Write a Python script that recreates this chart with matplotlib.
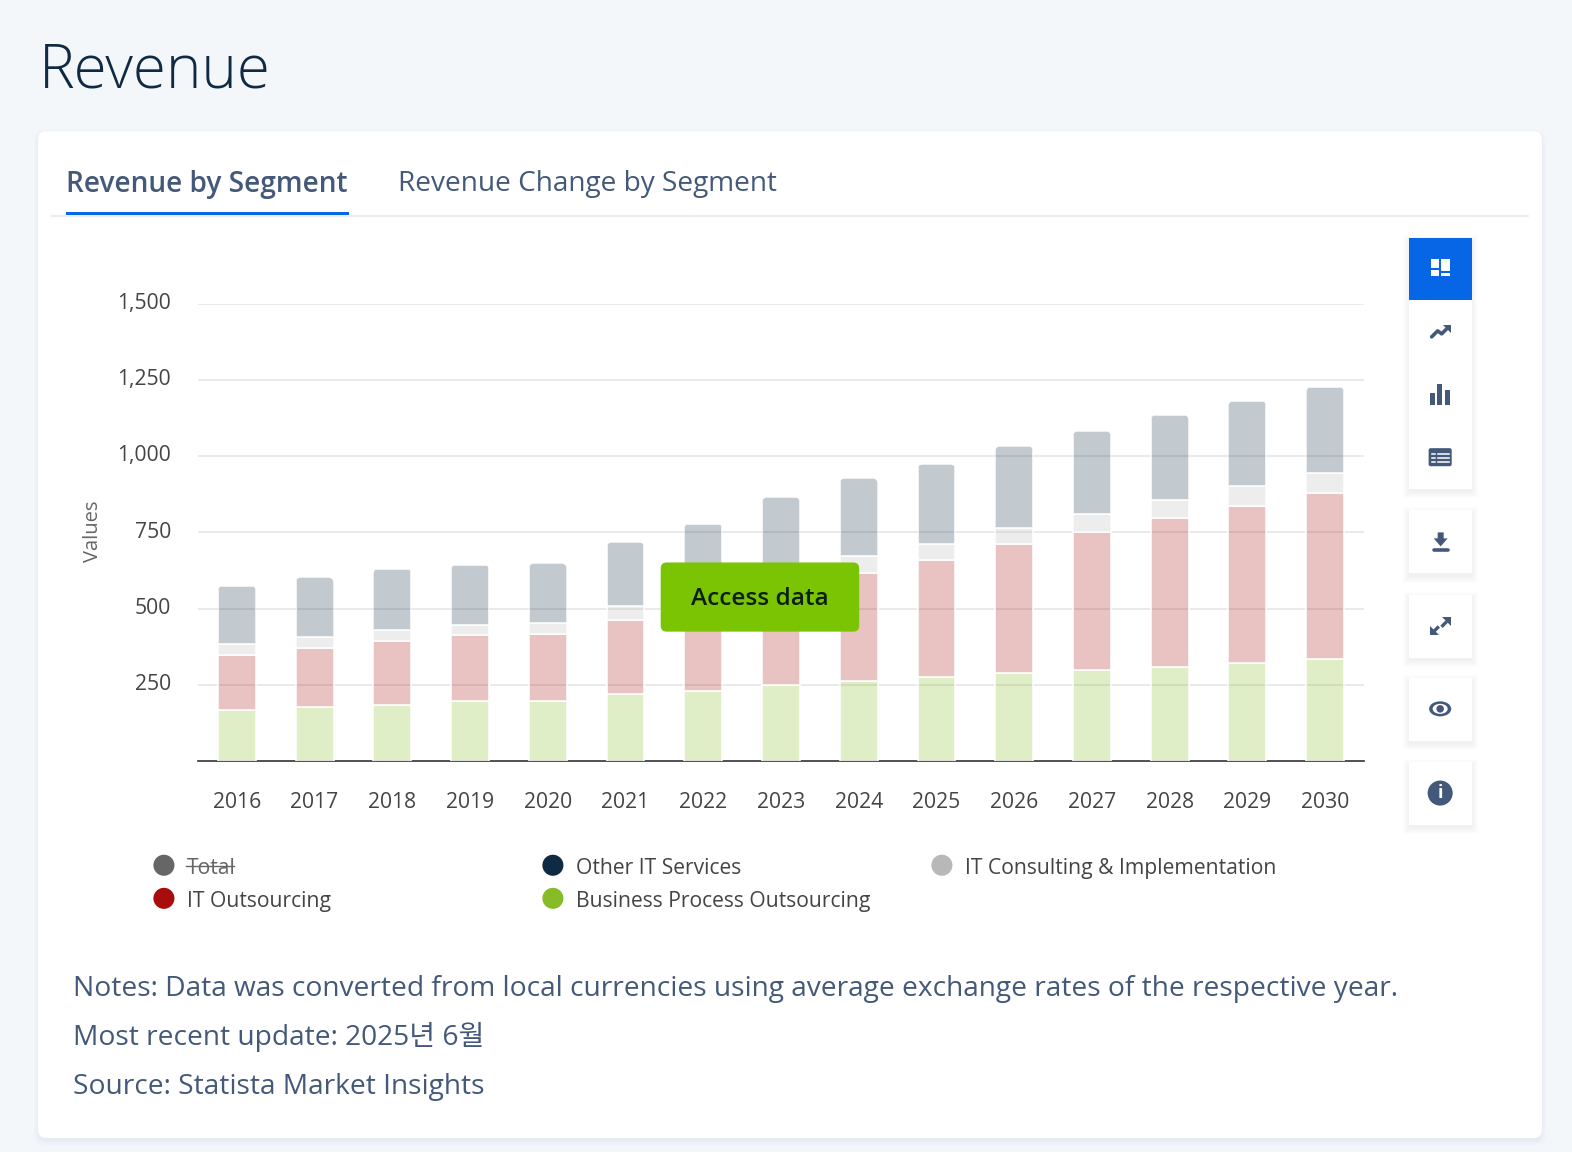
import matplotlib
matplotlib.use('Agg')
import matplotlib.pyplot as plt
import numpy as np
from matplotlib.patches import FancyBboxPatch, Rectangle, Polygon, Ellipse
from matplotlib.transforms import ScaledTranslation

plt.rcParams['font.family'] = ['Open Sans', 'Noto Sans CJK KR', 'DejaVu Sans']

years = [2016, 2017, 2018, 2019, 2020, 2021, 2022, 2023, 2024, 2025, 2026, 2027, 2028, 2029, 2030]
bpo = [168, 178, 184, 197, 197, 220, 230, 250, 263, 276, 289, 299, 309, 322, 335]
it_out = [181, 194, 211, 217, 221, 244, 275, 315, 355, 382, 422, 451, 487, 514, 543]
consulting = [36, 36, 36, 33, 36, 43, 40, 45, 56, 53, 52, 59, 59, 65, 66]
other = [190, 194, 200, 197, 194, 210, 234, 255, 253, 262, 270, 273, 280, 280, 283]
yticks = [250, 500, 750, 1000, 1250, 1500]
legend_names = ['Total', 'Other IT Services', 'IT Consulting & Implementation',
                'IT Outsourcing', 'Business Process Outsourcing']

BLUE = '#44597a'
W, H = 1568, 1149
fig = plt.figure(figsize=(15.72, 11.52), dpi=100, facecolor='#f4f7fa')


def overlay(z):
    a = fig.add_axes([0, 0, 1, 1], zorder=z)
    a.set_xlim(0, W)
    a.set_ylim(H, 0)
    a.axis('off')
    a.patch.set_alpha(0)
    return a


def box(a, x, y, w, h, color, r=0, **kw):
    if r:
        p = FancyBboxPatch((x, y), w, h, boxstyle='round,pad=0,rounding_size=%g' % r,
                           fc=color, ec='none', **kw)
    else:
        p = Rectangle((x, y), w, h, fc=color, ec='none', **kw)
    a.add_patch(p)


bg = overlay(0)
for i in range(6):
    box(bg, 38 - i, 131 - i + 3, 1500 + 2 * i, 1004 + 2 * i, '#8090a8', r=8 + i, alpha=0.012)
box(bg, 38, 131, 1500, 1004, 'white', r=8)
bg.text(39, 72, 'Revenue', fontsize=43.2, weight='light', color='#0f2a43', va='center')
bg.text(66, 184, 'Revenue by Segment', fontsize=20.2, weight='semibold', color=BLUE, va='center')
bg.text(397, 184, 'Revenue Change by Segment', fontsize=20.2, color=BLUE, va='center')
bg.plot([52, 1524], [215, 215], color='#e6e9ee', lw=1.2)
box(bg, 66, 211, 282, 3.5, '#0666e5')

# chart
ax = fig.add_axes([197.5 / W, 1 - 759 / H, (1360.5 - 197.5) / W, (759 - 303) / H], zorder=1)
ax.patch.set_alpha(0)
x = np.arange(len(years))
bottom = np.zeros(len(years))
barw = 37.8 / 77.53
tops = []
for vals, col in [(bpo, '#86bc25'), (it_out, '#a90c0c'), (consulting, '#b8b8b8'), (other, '#0f2a43')]:
    tops = ax.bar(x, vals, barw, bottom=bottom, color=matplotlib.colors.to_rgba(col, 0.25),
                  edgecolor='white', linewidth=1.1, zorder=3)
    bottom = bottom + np.array(vals)
ax.set_xlim(-0.5, 14.5)
ax.set_ylim(0, 1500)
# round the top corners of the top segment
aspect = (1 / 0.304) / (1 / 77.53)
for b in tops:
    clip = FancyBboxPatch((b.get_x(), b.get_y() - 100), b.get_width(), b.get_height() + 100,
                          boxstyle='round,pad=0,rounding_size=%g' % (6 / 77.53),
                          mutation_aspect=aspect, transform=ax.transData)
    b.set_clip_path(clip)
ax.set_xticks(x, years)
ax.set_yticks(yticks, ['{:,}'.format(v) for v in yticks])
ax.tick_params(length=0, labelsize=15.2, labelcolor='#444444')
ax.tick_params(axis='x', pad=22.6)
ax.tick_params(axis='y', pad=19.4)
up = ScaledTranslation(0, 2 / 72, fig.dpi_scale_trans)
for lab in ax.get_yticklabels():
    lab.set_transform(lab.get_transform() + up)
ax.grid(axis='y', color='#e6e6e6', lw=1.2, zorder=0)
ax.set_axisbelow(True)
for s in ['top', 'right', 'left']:
    ax.spines[s].set_visible(False)
ax.spines['bottom'].set_color('#333333')
ax.spines['bottom'].set_linewidth(1.2)

fg = overlay(2)
fg.text(93, 530, 'Values', fontsize=14.5, color='#666666', rotation=90, ha='center', va='center')

# legend
leg_pos = [(163.5, 863), (551.5, 863), (939.5, 863), (163.5, 896), (551.5, 896)]
leg_col = ['#666666', '#0f2a43', '#b8b8b8', '#a90c0c', '#86bc25']
for name, (lx, ly), col in zip(legend_names, leg_pos, leg_col):
    fg.add_patch(Ellipse((lx, ly), 21, 21, fc=col, ec='none'))
    fg.text(lx + 23, ly + 3, name, fontsize=15.2, color='#666666' if name == 'Total' else '#444444', va='center')
fg.plot([186, 233], [864, 864], color='#666666', lw=1)

# notes
fg.text(73, 986, 'Notes: Data was converted from local currencies using average exchange rates of the respective year.',
        fontsize=20.22, color=BLUE, va='center')
fg.text(73, 1034, 'Most recent update: 2025년 6월', fontsize=20.22, color=BLUE, va='center')
fg.text(73, 1084, 'Source: Statista Market Insights', fontsize=20.22, color=BLUE, va='center')

# access button
box(fg, 659, 561, 198, 69, '#7ac403', r=6)
fg.text(758, 597, 'Access data', fontsize=17.6, weight='semibold', color='#0b1f0b', ha='center', va='center')

# side buttons
for y0, y1 in [(237, 488), (509, 572), (593, 656), (676, 739), (760, 823)]:
    for i in range(7):
        box(fg, 1405 - i, y0 + 3 - i, 63 + 2 * i, y1 - y0 + 2 * i, '#607090', alpha=0.012)
    box(fg, 1405, y0, 63, y1 - y0, 'white')
box(fg, 1405, 237, 63, 62, '#0666e5')

# grid icon
box(fg, 1427, 258, 8, 9, 'white')
box(fg, 1427, 269, 8, 6, 'white')
box(fg, 1437, 258, 9, 12, 'white')
box(fg, 1437, 272, 9, 3, 'white')
# trend icon
fg.plot([1428, 1434, 1438, 1444], [336, 330, 333, 327], color=BLUE, lw=2.6, solid_capstyle='round')
fg.add_patch(Polygon([[1439, 324], [1447, 324], [1447, 332]], fc=BLUE, ec='none'))
# bar icon
box(fg, 1426, 392, 5, 12, BLUE)
box(fg, 1433.5, 383, 5, 21, BLUE)
box(fg, 1441, 389, 5, 15, BLUE)
# table icon
box(fg, 1425, 447, 23, 18, BLUE, r=2)
for ly in [452.5, 456.5, 460.5]:
    fg.plot([1428, 1431.5], [ly, ly], color='white', lw=1.1)
    fg.plot([1434, 1445], [ly, ly], color='white', lw=1.1)
# download icon
fg.add_patch(Polygon([[1434, 531], [1440, 531], [1440, 537], [1444, 537], [1437, 545], [1430, 537], [1434, 537]],
                     fc=BLUE, ec='none'))
fg.plot([1430, 1444], [548.5, 548.5], color=BLUE, lw=2.6, solid_capstyle='round')
# expand icon
fg.add_patch(Polygon([[1438, 615], [1447, 615], [1447, 624]], fc=BLUE, ec='none'))
fg.add_patch(Polygon([[1426, 624], [1426, 633], [1435, 633]], fc=BLUE, ec='none'))
fg.plot([1439, 1442], [624, 621], color=BLUE, lw=2.4)
fg.plot([1431, 1434], [629, 626], color=BLUE, lw=2.4)
# eye icon
fg.add_patch(Ellipse((1436.5, 707), 22, 15, fc=BLUE, ec='none'))
fg.add_patch(Ellipse((1436.5, 707), 15, 10, fc='white', ec='none'))
fg.add_patch(Ellipse((1436.5, 707), 7.5, 7.5, fc=BLUE, ec='none'))
# info icon
fg.add_patch(Ellipse((1436.5, 791), 25, 25, fc=BLUE, ec='none'))
fg.text(1436.5, 791, 'i', fontsize=13, weight='bold', color='white', ha='center', va='center')

fig.savefig('out.png', dpi=100, facecolor=fig.get_facecolor())
